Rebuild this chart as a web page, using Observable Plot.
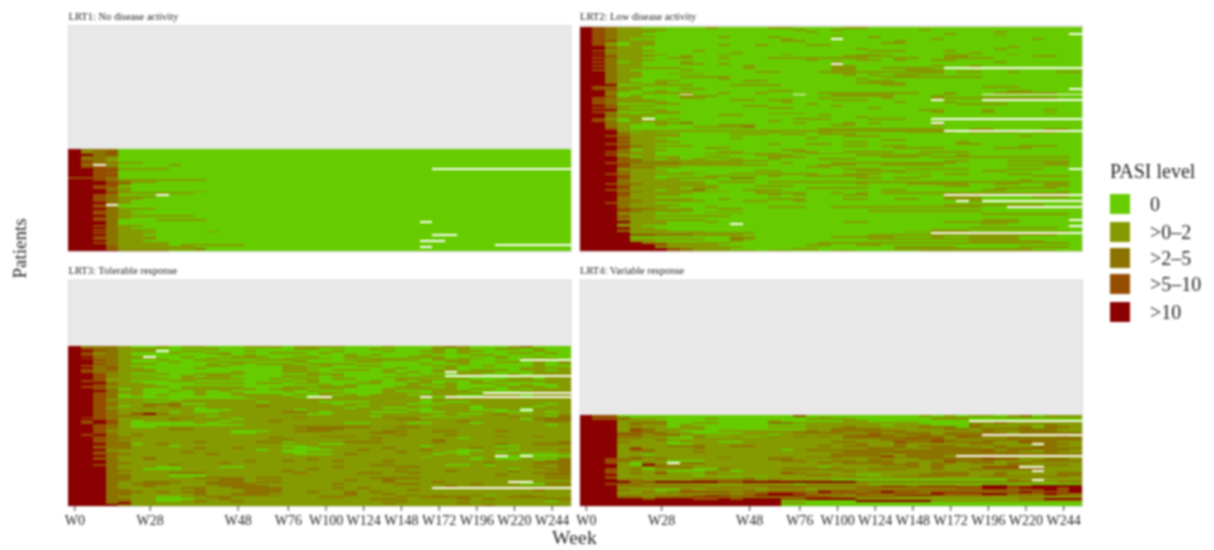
<!DOCTYPE html>
<html><head><meta charset="utf-8">
<script src="https://cdn.jsdelivr.net/npm/d3@7"></script>
<script src="https://cdn.jsdelivr.net/npm/@observablehq/plot@0.6"></script>
<style>
html,body{margin:0;padding:0;background:#fff}
#wrap{position:relative;width:1214px;height:550px;overflow:hidden;font-family:"Liberation Serif",serif;color:#222;filter:blur(0.8px)}
#wrap svg{position:absolute;left:0;top:0}
.t{position:absolute;white-space:nowrap;line-height:1.1}
.s{position:absolute;width:20px;height:20px}
</style></head><body><div id="wrap"></div>
<script>
const weeks = ["W0","W2","W4","W8","W12","W16","W28","W30","W32","W36","W40","W42","W44","W48","W52","W60","W68","W76","W84","W92","W100","W108","W116","W124","W132","W140","W148","W156","W164","W172","W180","W188","W196","W204","W212","W220","W228","W236","W244","W252"];
const tickWeeks = ["W0","W28","W48","W76","W100","W124","W148","W172","W196","W220","W244"];
const levels = ["0",">0–2",">2–5",">5–10",">10"];
const colours = ["#66cc00","#859900","#8c7300","#954d00","#8b0000"];
const panelNames = ["LRT1: No disease activity","LRT2: Low disease activity","LRT3: Tolerable response","LRT4: Variable response"];
const totalRows = 119;

// One string per patient, top to bottom, one character per week: 0-4 = level, . = missing.
const lrt1 = [
"4222","4123","4322","4423","4221","4221","4321","43221100","42.1000010","4332",
"4433111100000000000000000000000","4433","4432","4433","4433","3332","44321111111","4443211","44432","4433",
"44321","44421","44431000001","4443111111","4432000.","4432111","443211","44321","44421","443.",
"4432","4442111","44321","443211","44321","4442111111","44321","44320001111","4442",
"4442","44321100","44421","4432111","444211000001","4432111","44421100","4432111",
"44321110000","44421100000000","44321111","44421111011111","44431111110","44421111112","44442222"
].map(r=>r.padEnd(40,"0"));
const put=(a,r,from,to)=>{a[r]=a[r].slice(0,from)+".".repeat(to-from+1)+a[r].slice(to+1)};
put(lrt1,10,29,39);put(lrt1,38,28,28);put(lrt1,45,29,30);put(lrt1,48,28,29);put(lrt1,50,34,39);put(lrt1,51,28,28);

const lrt2 = [
"43211000001000011000011",
"43211110000000000100100000010",
"43211100000000000010000000000000010",
"43211000000000000000000000000100000000",
"4321100000000000000010000000000001",
"43211100000100010000000100000000",
"4321000000000000100000000000100000001",
"4331110000000000110000000100",
"43101100000000000000000011",
"43101100000100100011000000",
"44211000000000000000000000000000001",
"44211000000000000000001000000000010",
"43111100010000000000000111000100000000",
"44211000000010000000000000000001",
"43111110000100001000001100000110001",
"44311100100000000000011110000110000011",
"43211001100100011111111001100111100000",
"44211100000000000010001101001100",
"43201000100000000000100000000000010",
"44211000110100000000000000000000",
"4321100000000100000011000000100100",
"44211111000001000000110011110",
"43210000100000000000110000111",
"44211000000000110001111111111011001000110",
"44211001110000000000110000011000000",
"44211000000000000000010101100000",
"44211000111100000000000011111111000000",
"44210000000100000000001000000000000",
"44210011000001100000000110000",
"44211010000000000000001111000000000000",
"44400111100011110000000011000000000",
"43211000000000000000000000000000111",
"43311000110000000000000000000000000000",
"44210010000000011000000000000000001100",
"44200111100100100001111111100100011111",
"44100000.00000000.00111110000100",
"44301000111000000000111110001",
"43211000110000000001000010001111111111",
"43211100000011011000111000000000000000",
"4321111000000000100000000100010000000",
"43200011000000000010000000000011110000",
"44311100000001100000100000000000000000",
"4321000000000001100000010000000000",
"44411110000000000000000000011000100001",
"43200011000000000000000000001000100000",
"44210111000000011100000000000000000001",
"44211100000110000001000000000000000000",
"44211000000000000000001000000000000000",
"43101.010000000001110001110000100000",
"4320111000000001000000000000000000000",
"44211011200000000100010100000",
"44210010000111000000110000001",
"44210000011112000000000000000000",
"443100000000000000011111111110011000011",
"44411111111111111111111111111111",
"444201000000000100010000001111011110110",
"444211110000111011011100000000",
"443211110000000000000111000000000001",
"444311000000100000100000000000",
"444211100000000000000000110000",
"444311110000000000000110000000100000",
"443211000000000100110000000000110000",
"44432111100000000000011011000000000111",
"444311000011000000000000011110000111",
"444201100000000011000000000000000",
"44321100000110000110011110011110000",
"444211000011111100111000000",
"443111000000001110000011111100100000",
"444201110011000111000000111011111111111",
"444321010100100100011100000",
"444221111111111000000000000001100011111",
"443322221111100010001111111111000000011",
"444311111111111000011100111110000011111",
"444322110000000000110000000000000",
"4441110000000000000001110011111000111",
"4442111000000011000000111100000011",
"444211001100000000000000011100000",
"443211111000111111100111000001100011",
"444311000011000100111110000100000000111",
"44431101111022000000001101100",
"444211110000000000000000000000000001",
"444211111101110111111111111111111111111",
"443221111100000000000010001111100110011",
"444311111110001110000000000001100000011",
"44431111011000000011111000000000011111",
"443211011200011100000000110000001100",
"444221111111001000000000000000000000001",
"444311111000001111001010111111111111111",
"4443111100000001010001100000000",
"444211000000000000000000000001110000111",
"444211111001000111000110011001110000000",
"444221111100011001000000000000011011111",
"44321100000000000000000000000000",
"444211110000000000000000000001111111100",
"444211100010000111001111111111110000000",
"44432211100110000000000000000",
"444321111000000000000001111111110000000",
"444211010011100000000000000000000000000",
"444111000000000000000000000000001111111",
"444311111111000000000000000000000000000",
"444211000000000000000000000000000000000",
"444211111100000000000000000000001110000",
"444411100010000000000110000001111110000",
"444211100000.00000000000000000001100000",
"4441100000000000000000000000000000000",
"444411000000000000000000000000011111110",
"444311100000000000000000000011100000000",
"444211111100000000000000001111111111111",
"444411111111110000000000000000000000000",
"44443322211110000000000111111111111111",
"44440000000011000000111110001001111",
"44441111110021000000000111111111111",
"444411000000100000000000000000011111100",
"444442211111000000011111111111111111111",
"444444311110000000110011000000000000000",
"444444111111100000000000011111000001111",
"4444444321110000011000000111111111110",
"44444443211111011000110000011111111111"
].map(r=>r.padEnd(40,"0"));
put(lrt2,3,39,39);put(lrt2,6,20,20);put(lrt2,19,20,20);put(lrt2,21,29,39);put(lrt2,32,39,39);put(lrt2,35,32,39);put(lrt2,38,28,28);put(lrt2,38,32,39);put(lrt2,48,28,39);put(lrt2,50,28,28);put(lrt2,54,29,39);put(lrt2,74,39,39);put(lrt2,88,29,39);put(lrt2,91,30,30);put(lrt2,91,32,39);put(lrt2,94,34,39);put(lrt2,101,39,39);put(lrt2,104,39,39);put(lrt2,108,28,39);

const lrt3 = [
"4222100101100011101111000100012100012000",
"4322111000010000001100001000010100110100",
"4432111.01100010000001000100110110000100",
"4312100010011000111010000000010100011010",
"4322100000001010000000101000100011000000",
"4422111001000111001100110001110000100100",
"4322111000011110010110001110010110101010",
"4432100100110001111000111111011100001011",
"4422100010001110001000011000001100110101",
"4432111000010101110111100000100100000101",
"4322100000011000011010011000011001000100",
"4423110000100000011100000010001000001111",
"4322111000000000011001110100011011101101",
"4322111000000100011100000101011111000111",
"4431100100111100000111000010000110010111",
"4432111001011000011101000000111111011011",
"4431100001111000010000000111000000001011",
"4431111101111100101101100011111100011011",
"4331100011000000010100001010100010111111",
"4442110000111101101100011001101011000011",
"4432111000000000000010100001011000101001",
"4331111101111100011111100011101000011101",
"4432010001111110111011000111111011010111",
"4442110010101000010100000100011100001111",
"4432110000100100000011000111011110001111",
"4432010100100111101010101110111001110111",
"4432000000000011110.01111111.0011111111",
"4432110000000001111111111111111111111111",
"4431111101111111111111111111011111111111",
"4432110011111110111100001111010011111111",
"4432112220011111111110111110001111111101",
"4432012121111112111111101111111101111011",
"4431111111011111111111011001011101110111",
"4432111111000111110111111110011100011111",
"4432111101001111122101110001001111000101",
"4432134211111111111001111111111001211111",
"4432211111101111111111110111101111111102",
"4332121112111111112111111211010011121122",
"4432111121111011111111111122111111110222",
"4343101111110111211111111111111211111122",
"4343100000101111111111001110011101111111",
"4432100000000011111111111111111111111101",
"4432100111111111112222221122111111111111",
"4432111122111111111222111111111111111111",
"4431111111111000112221111221122111211111",
"4432111111111001111111112211111111111111",
"4342121111111111111111111121112111111111",
"4432111111111111111122211111111111211211",
"4432211111111111211111112111111011111111",
"4432111111111111121111111111121111111111",
"4432211111211112201111222111121111111112",
"4442201211111111111100111111111111211222",
"4432211101111111100111111111011111001111",
"4432211111211211110011111211111121111111",
"4441111111111110100001121111211001101112",
"4432111112111111100111111121110011011111",
"4432211111121111110001211111101011110001",
"4442111111111111111111111111111111.00000",
"4432112111111111111111111111011101000111",
"4432112111111111111211111111111101001002",
"4442111111111121121112111211111111111122",
"4442211111112111111111111111111112111222",
"4432111121111111111111112211110010111112",
"4442111001110011111112111122111111111212",
"4442110001111111111211111111111111101122",
"4442211111111111121111111121112111121112",
"4442111122211111112111122112111111111222",
"4442211100011111111111111111111111211122",
"4442211100011111111111111111111111111111",
"4442211111222212211111112222111111111122",
"4442211111112211111111211211111111111111",
"4442112221122212211111111211121111121111",
"4442122211122221111112111122111121110022",
"4442112111112222111111111111112111111111",
"4442111112211222211112121111121111111112",
"4442211111211122211111111112111111111211",
"4442221212211122211211212111111111111111",
"4442211111211222111111211211111111111111",
"4442211111211222211111211112121120112111",
"4442111001122111111122111121222211122211",
"4442211000112111111111112211111212111122",
"4442211001211211111111111121111111111101",
"4442411111111111111111111211111211111111",
"4444211111111111111111111111111112111111"
];
put(lrt3,7,36,39);put(lrt3,5,6,6);put(lrt3,13,30,30);put(lrt3,15,30,39);put(lrt3,24,33,39);put(lrt3,26,20,20);put(lrt3,26,28,28);put(lrt3,26,30,39);put(lrt3,33,36,36);put(lrt3,57,36,36);put(lrt3,71,35,36);put(lrt3,74,29,39);

const lrt4 = [
"4330000000000000030000000001010110120111",
"4332001000000000000100000000111001111111",
"4332110000100000001111000000111000000000",
"4441111000000001000001100000000122222222",
"4441222001100002211111111110000112111111",
"4441211010000000001111110111000211111211",
"4441111011000001111112111112220211120221",
"4441321111000000001122221111122122222211",
"4441321100011111112122222211111121122211",
"4442222110000111122221121222122222122222",
"4443312211111110111112232122122222322211",
"4441121102001002121212322213313222211121",
"4442211001111111111112222232212211222222",
"4441112111111111111111112222321122222222",
"4442111011100111111122111322322221132211",
"4441111001111111111111211211111221111221",
"4441111222112211111212211212221112111211",
"4441311112111111111111122211222212223222",
"4441321111111111012222222122222231221221",
"4441121112111111111112222322222222211211",
"4441101111111111111122221122222222222222",
"4441111111111111111122223122211111111122",
"4441321111121112212221113222222221111111",
"4432212111111112211111121112222233311221",
"4432111000111111221122122111132221112222",
"4431021122111111111212222121221221221111",
"4441042111111111111111112221211111211221",
"4441112221111111111011111121211133311111",
"4431201110021111222221122211211222222111",
"4431111000110111111112111111111111112111",
"4431213111211111321111111111222112111122",
"4441111110111111112211001112222112111122",
"4431111111100001111112211222211122222221",
"4431111111111211111111111111111111111111",
"4442211112222212111100000000000000211111",
"4444234444433444444444222222222222221122",
"4432211111111111101111100000000000000000",
"4442222222111222222222223323332244334444",
"4441111111222112221111222222223344344434",
"4442110021111211111222222222222233223434",
"4441121233332223332433234332333322343334",
"4441111111111234432222322222433344222432",
"4442222233443344443221222444222232232222",
"4442212223322222223322222111111111111111",
"4444434443343444334444111111111111122444",
"4444444444444444000000444444111111111111",
"4444444444444444110000000000000000000000",
"4444444444444444000000000000000000000000"
];
put(lrt4,3,31,39);put(lrt4,25,7,7);put(lrt4,10,32,39);put(lrt4,15,36,36);put(lrt4,21,30,39);put(lrt4,27,35,36);put(lrt4,29,36,36);put(lrt4,34,36,36);

const allRows = [lrt1,lrt2,lrt3,lrt4];
const cells = allRows.flatMap((rows,p)=>rows.flatMap((row,r)=>Array.from(row).slice(0,40).map((c,w)=>({
  week:weeks[w], row:rows.length-1-r, col:p%2, line:p<2?0:1,
  level:c==="."?"NA":levels[+c]
}))));
const panels = panelNames.map((name,p)=>({name,col:p%2,line:p<2?0:1}));

const chart = Plot.plot({
  width:1214,height:550,
  marginLeft:68,marginRight:132,marginTop:25,marginBottom:44,
  style:{fontFamily:'"Liberation Serif",serif',background:"transparent",color:"#222"},
  fx:{domain:[0,1],axis:null,paddingInner:9/511.5,paddingOuter:0,round:false},
  fy:{domain:[0,1],axis:null,paddingInner:28/254,paddingOuter:0,round:false},
  x:{type:"band",domain:weeks,padding:0,round:false,label:null},
  y:{type:"band",domain:d3.range(totalRows).reverse(),padding:0,round:false,axis:null},
  color:{type:"ordinal",domain:[...levels,"NA"],range:[...colours,"#ffffff"]},
  marks:[
    Plot.frame({fill:"#e8e8e8",stroke:"#dedede"}),
    Plot.cell(cells,{x:"week",y:"row",fx:"col",fy:"line",fill:"level",inset:0,shapeRendering:"crispEdges"}),
    Plot.axisX({ticks:tickWeeks,anchor:"bottom",tickSize:5,tickPadding:4,fontSize:14,stroke:"#333",label:null,color:"#222"}),
    Plot.text(panels,{fx:"col",fy:"line",text:"name",frameAnchor:"top-left",dy:-13,fontSize:10.5,fill:"#222"})
  ]
});
const wrap=document.getElementById("wrap");
wrap.appendChild(chart);
const label=(txt,x,y,size,extra)=>{const d=document.createElement("div");d.className="t";d.textContent=txt;d.style.left=x+"px";d.style.top=y+"px";d.style.fontSize=size+"px";if(extra)Object.assign(d.style,extra);wrap.appendChild(d)};
label("Week",552,527,19.5,{letterSpacing:"0.3px"});
label("Patients",-10,238,19,{transform:"rotate(-90deg)",width:60,textAlign:"center"});
label("PASI level",1110,160,20);
const swatchTops=[194,222,248,274,302];
levels.forEach((l,i)=>{
  const s=document.createElement("div");s.className="s";s.style.left="1110px";s.style.top=swatchTops[i]+"px";s.style.background=colours[i];wrap.appendChild(s);
  label(l,1150,swatchTops[i]-1,20);
});
</script></body></html>
